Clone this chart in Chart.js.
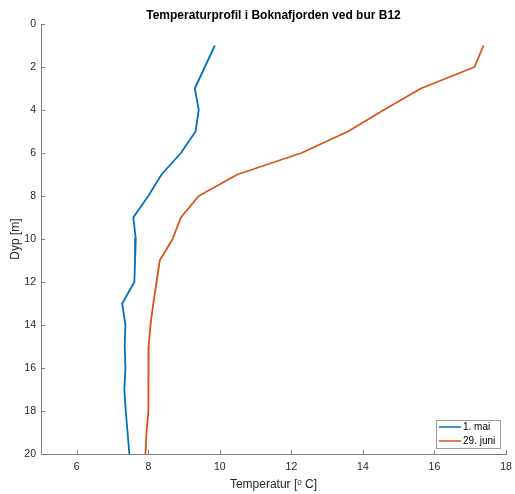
<!DOCTYPE html>
<html lang="no">
<head>
  <meta charset="UTF-8">
  <title>Temperaturprofil</title>
  <script src="https://cdn.jsdelivr.net/npm/chart.js"></script>
  <style>
    html, body { margin: 0; padding: 0; background: #fff; }
    #wrap { width: 515px; height: 494px; }
  </style>
</head>
<body>
<div id="wrap"><canvas id="profil" width="515" height="494"></canvas></div>

<script>
// dybde i meter
const dyp = [1, 2, 3, 4, 5, 6, 7, 8, 9, 10, 11, 12, 13, 14, 15, 16, 17, 18, 19, 20];
// temperatur 1. mai
const tempMai = [9.86, 9.58, 9.30, 9.41, 9.32, 8.91, 8.37, 8.00, 7.58, 7.65, 7.63, 7.61, 7.27, 7.36, 7.34, 7.36, 7.33, 7.37, 7.42, 7.47];
// temperatur 29. juni
const tempJuni = [17.37, 17.12, 15.62, 14.58, 13.58, 12.28, 10.49, 9.41, 8.91, 8.68, 8.32, 8.23, 8.14, 8.06, 8.01, 8.00, 8.01, 8.00, 7.95, 7.92];
const xTicks = [6, 8, 10, 12, 14, 16, 18];
const yTicks = [0, 2, 4, 6, 8, 10, 12, 14, 16, 18, 20];
const serier = ["1. mai", "29. juni"];
const farger = ["#0072BD", "#D95319"];
const tittel = "Temperaturprofil i Boknafjorden ved bur B12";

const font = "'Liberation Sans', Arial, sans-serif";
const akseFarge = "#808080";

function punkter(temp) {
  return temp.map((t, i) => ({ x: t, y: dyp[i] }));
}

// tittel sentrert over plottet (ikke over hele lerretet)
const plottTittel = {
  id: "plottTittel",
  afterDraw(chart) {
    const ctx = chart.ctx;
    const a = chart.chartArea;
    ctx.save();
    ctx.font = "bold 12px " + font;
    ctx.fillStyle = "#000";
    ctx.textAlign = "center";
    ctx.textBaseline = "middle";
    ctx.fillText(tittel, (a.left + a.right) / 2, 16);
    ctx.restore();
  }
};

// tikk som peker innover, som i matlab
const innTikk = {
  id: "innTikk",
  afterDraw(chart) {
    const ctx = chart.ctx;
    const a = chart.chartArea;
    const xs = chart.scales.x, ys = chart.scales.y;
    ctx.save();
    ctx.strokeStyle = akseFarge;
    ctx.lineWidth = 1;
    ctx.beginPath();
    xTicks.forEach(v => {
      const px = Math.round(xs.getPixelForValue(v)) + 0.5;
      ctx.moveTo(px, a.bottom);
      ctx.lineTo(px, a.bottom - 4);
    });
    yTicks.forEach(v => {
      const py = Math.round(ys.getPixelForValue(v)) + 0.5;
      ctx.moveTo(a.left, py);
      ctx.lineTo(a.left + 4, py);
    });
    ctx.stroke();
    ctx.restore();
  }
};

// legende nede til høyre inne i plottet
const legendeBoks = {
  id: "legendeBoks",
  afterDraw(chart) {
    const ctx = chart.ctx;
    const a = chart.chartArea;
    const w = 64, h = 28;
    const x0 = a.right - w - 6, y0 = a.bottom - h - 6;
    ctx.save();
    ctx.fillStyle = "#fff";
    ctx.fillRect(x0, y0, w, h);
    ctx.strokeStyle = "#a0a0a0";
    ctx.lineWidth = 1;
    ctx.strokeRect(Math.round(x0) + 0.5, Math.round(y0) + 0.5, w, h);
    ctx.font = "10px " + font;
    ctx.textBaseline = "middle";
    serier.forEach((navn, i) => {
      const yy = y0 + 7 + i * 14;
      ctx.strokeStyle = farger[i];
      ctx.lineWidth = 1.5;
      ctx.beginPath();
      ctx.moveTo(x0 + 3, yy);
      ctx.lineTo(x0 + 25, yy);
      ctx.stroke();
      ctx.fillStyle = "#000";
      ctx.fillText(navn, x0 + 27, yy + 0.5);
    });
    ctx.restore();
  }
};

new Chart(document.getElementById("profil").getContext("2d"), {
  type: "scatter",
  data: {
    datasets: [
      {
        label: serier[0],
        data: punkter(tempMai),
        showLine: true,
        borderColor: farger[0],
        borderWidth: 1.8,
        borderJoinStyle: "round",
        pointRadius: 0,
        tension: 0
      },
      {
        label: serier[1],
        data: punkter(tempJuni),
        showLine: true,
        borderColor: farger[1],
        borderWidth: 1.8,
        borderJoinStyle: "round",
        pointRadius: 0,
        tension: 0
      }
    ]
  },
  options: {
    responsive: false,
    animation: false,
    layout: { padding: { top: 24, right: 9, left: 0, bottom: 0 } },
    plugins: {
      legend: { display: false },
      tooltip: { enabled: false },
      title: { display: false }
    },
    scales: {
      x: {
        type: "linear",
        min: 5,
        max: 18,
        afterBuildTicks: s => { s.ticks = xTicks.map(v => ({ value: v })); },
        afterFit: s => { s.height = 40; s.paddingRight = 3; },
        grid: { display: false, drawTicks: false },
        border: { display: true, color: akseFarge, width: 1 },
        ticks: { color: "#262626", font: { family: font, size: 10.5 }, padding: 7, maxRotation: 0 },
        title: {
          display: true,
          text: "Temperatur [ᵒ C]",
          color: "#262626",
          font: { family: font, size: 12 },
          padding: { top: 0, bottom: 2 }
        }
      },
      y: {
        type: "linear",
        reverse: true,
        min: 0,
        max: 20,
        afterBuildTicks: s => { s.ticks = yTicks.map(v => ({ value: v })); },
        afterFit: s => { s.width = 41; s.paddingTop = 0; },
        grid: { display: false, drawTicks: false },
        border: { display: true, color: akseFarge, width: 1 },
        ticks: { color: "#262626", font: { family: font, size: 10.5 }, padding: 5 },
        title: {
          display: true,
          text: "Dyp [m]",
          color: "#262626",
          font: { family: font, size: 12 },
          padding: { top: 8.5, bottom: 0 }
        }
      }
    }
  },
  plugins: [plottTittel, innTikk, legendeBoks]
});
</script>
</body>
</html>
